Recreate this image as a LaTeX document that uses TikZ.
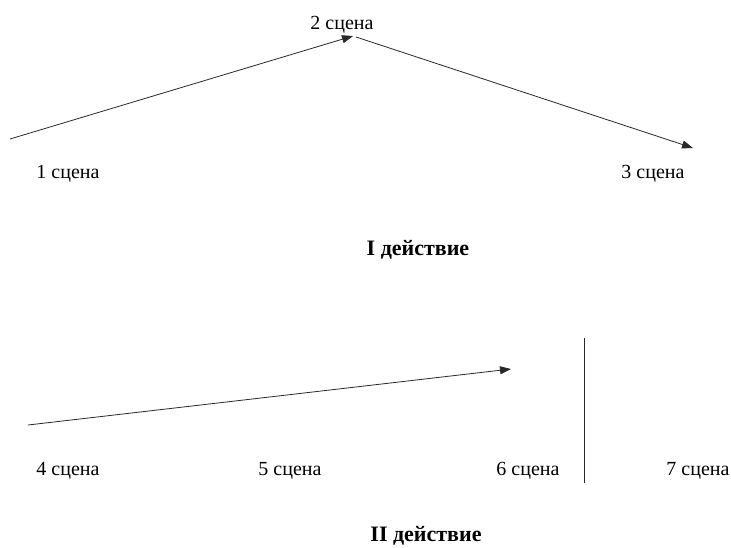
\documentclass[tikz,border=0pt]{standalone}
\usepackage{fontspec}
\setmainfont{Liberation Serif}
\usepackage{tikz}
\usetikzlibrary{arrows.meta,positioning}
\definecolor{plotgray}{RGB}{40,40,40}
\newcommand{\scenelabel}[3]{%
  \node[scene] (sc#1) at (#2,#3) {#1 сцена};
}
\tikzset{
  scene/.style={inner sep=0pt,anchor=base,font=\fontsize{20}{22}\selectfont},
  actname/.style={inner sep=0pt,anchor=base,font=\fontsize{22}{24}\selectfont\bfseries},
  plotline/.style={draw=plotgray,line width=.8pt,-{Triangle[length=11pt,width=8pt]}}
}

\begin{document}
\begin{tikzpicture}[x=1pt,y=-1pt]
    \useasboundingbox (0,0) rectangle (731,547);
    % act one
    \scenelabel{1}{68}{178}
    \scenelabel{2}{342}{29}
    \scenelabel{3}{653}{178}
    \node[actname] (act1) at (418,255) {I действие};
    \coordinate (p1) at (10,139);
    \coordinate (p2) at (353,36);
    \coordinate (p2b) at (356,37);
    \coordinate (p3) at (693,148);
    \draw[plotline] (p1) -- (p2);
    \draw[plotline] (p2b) -- (p3);
    % act two
    \scenelabel{4}{68}{475}
    \scenelabel{5}{290}{475}
    \scenelabel{6}{528}{475}
    \scenelabel{7}{698}{475}
    \node[actname] (act2) at (426,541) {II действие};
    \coordinate (q1) at (28,425);
    \coordinate (q2) at (511,369);
    \coordinate (cutTop) at (584,338);
    \coordinate (cutBot) at (584,483);
    \draw[plotline] (q1) -- (q2);
    \draw[draw=plotgray,line width=.8pt] (cutTop) -- (cutBot);
  \end{tikzpicture}
\end{document}
